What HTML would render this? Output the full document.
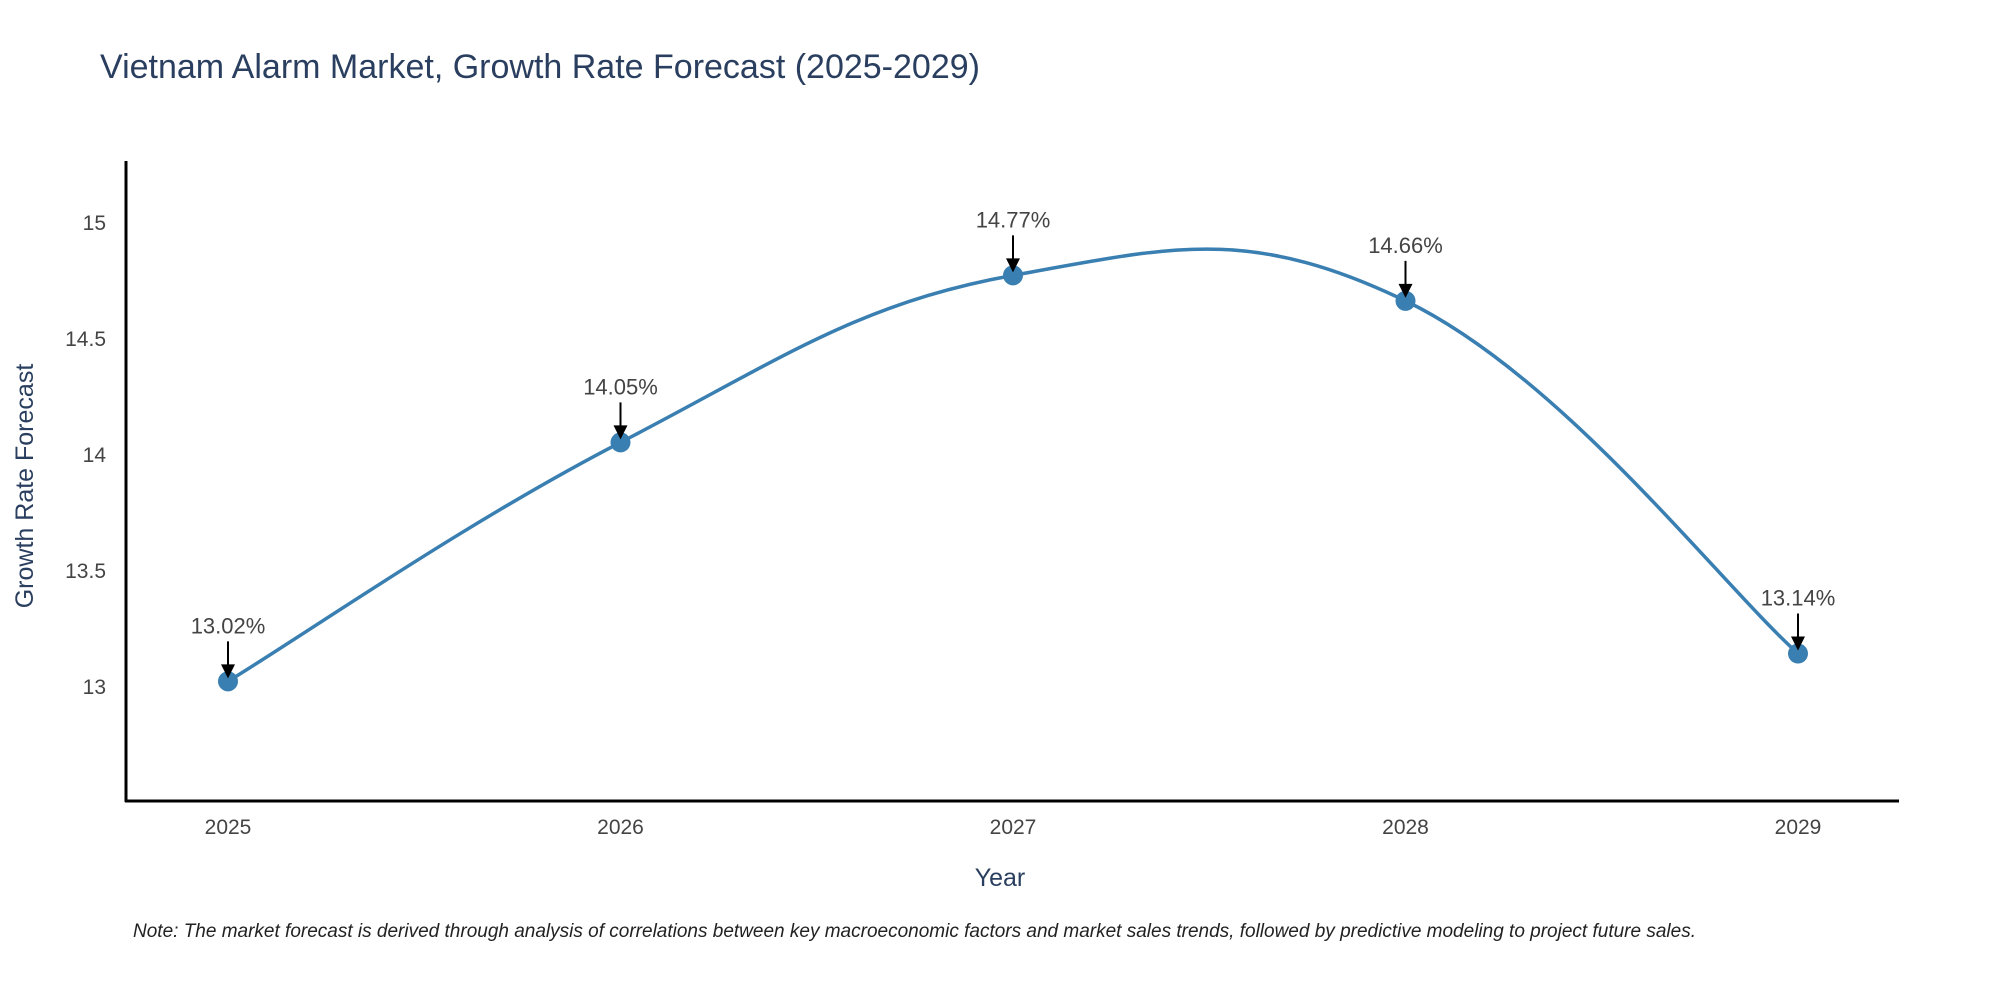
<!DOCTYPE html>
<html><head><meta charset="utf-8"><style>
html,body{margin:0;padding:0;background:#fff;}
svg{display:block;font-family:"Liberation Sans",sans-serif;}
</style></head><body>
<svg id="chart" width="2000" height="1000" viewBox="0 0 2000 1000">
<text x="100" y="78" font-size="34" fill="#2a3f5f">Vietnam Alarm Market, Growth Rate Forecast (2025-2029)</text>
<g id="yticks"></g>
<g id="xticks"></g>
<line x1="126" y1="161" x2="126" y2="802" stroke="#000" stroke-width="3"/>
<line x1="125" y1="801" x2="1899" y2="801" stroke="#000" stroke-width="3"/>
<text x="1000" y="886" font-size="25" fill="#2a3f5f" text-anchor="middle">Year</text>
<text transform="translate(33,486) rotate(-90)" font-size="25" fill="#2a3f5f" text-anchor="middle">Growth Rate Forecast</text>
<path id="curve" fill="none" stroke="#3a7fb1" stroke-width="3.5"/>
<g id="points"></g>
<g id="labels"></g>
<text x="133" y="937" font-size="19" font-style="italic" fill="#222">Note: The market forecast is derived through analysis of correlations between key macroeconomic factors and market sales trends, followed by predictive modeling to project future sales.</text>
</svg>
<script>
const years = [2025, 2026, 2027, 2028, 2029];
const growth = [13.02, 14.05, 14.77, 14.66, 13.14];
const yTickValues = [13, 13.5, 14, 14.5, 15];
const yTickLabels = ["13", "13.5", "14", "14.5", "15"];

const NS = "http://www.w3.org/2000/svg";
function xScale(v){ return 228 + (v - 2025) * (1798 - 228) / 4; }
function yScale(v){ return 686 - (v - 13) * (686 - 222) / 2; }

const yt = document.getElementById('yticks');
yTickValues.forEach((v,i)=>{
  const t = document.createElementNS(NS,'text');
  
  
  t.setAttribute('x', 106); t.setAttribute('y', yScale(v)+8);
  t.setAttribute('text-anchor','end'); t.setAttribute('font-size','21'); t.setAttribute('fill','#444');
  t.textContent = yTickLabels[i]; yt.appendChild(t);
});
const xt = document.getElementById('xticks');
years.forEach(v=>{
  const t = document.createElementNS(NS,'text');
  
  
  t.setAttribute('x', xScale(v)); t.setAttribute('y', 834);
  t.setAttribute('text-anchor','middle'); t.setAttribute('font-size','21'); t.setAttribute('fill','#444');
  t.textContent = String(v); xt.appendChild(t);
});

const pts = years.map((y,i)=>[xScale(y), yScale(growth[i])]);
let d = 'M' + pts[0][0] + ',' + pts[0][1];
const k = 0.2;
for (let i=0;i<pts.length-1;i++){
  const p0 = pts[Math.max(i-1,0)], p1 = pts[i], p2 = pts[i+1], p3 = pts[Math.min(i+2,pts.length-1)];
  const c1 = [p1[0] + (p2[0]-p0[0])*k, p1[1] + (p2[1]-p0[1])*k];
  const c2 = [p2[0] - (p3[0]-p1[0])*k, p2[1] - (p3[1]-p1[1])*k];
  d += ' C' + c1 + ' ' + c2 + ' ' + p2;
}
document.getElementById('curve').setAttribute('d', d);

const pg = document.getElementById('points'), lg = document.getElementById('labels');
pts.forEach((p,i)=>{
  const c = document.createElementNS(NS,'circle');
  
  
  c.setAttribute('cx', p[0]); c.setAttribute('cy', p[1]); c.setAttribute('r', 10);
  c.setAttribute('fill', '#3a7fb1'); pg.appendChild(c);
  const l = document.createElementNS(NS,'line');
  
  
  l.setAttribute('x1', p[0]); l.setAttribute('y1', p[1]-40); l.setAttribute('x2', p[0]); l.setAttribute('y2', p[1]-14);
  l.setAttribute('stroke', '#000'); l.setAttribute('stroke-width', '2'); lg.appendChild(l);
  const h = document.createElementNS(NS,'path');
  
  
  h.setAttribute('d', 'M'+(p[0]-7)+','+(p[1]-17)+' L'+(p[0]+7)+','+(p[1]-17)+' L'+p[0]+','+(p[1]-3)+' Z');
  h.setAttribute('fill', '#000'); lg.appendChild(h);
  const t = document.createElementNS(NS,'text');
  
  
  t.setAttribute('x', p[0]); t.setAttribute('y', p[1]-48);
  t.setAttribute('text-anchor','middle'); t.setAttribute('font-size','22'); t.setAttribute('fill','#444');
  t.textContent = growth[i].toFixed(2) + '%'; lg.appendChild(t);
});
</script>
</body></html>
